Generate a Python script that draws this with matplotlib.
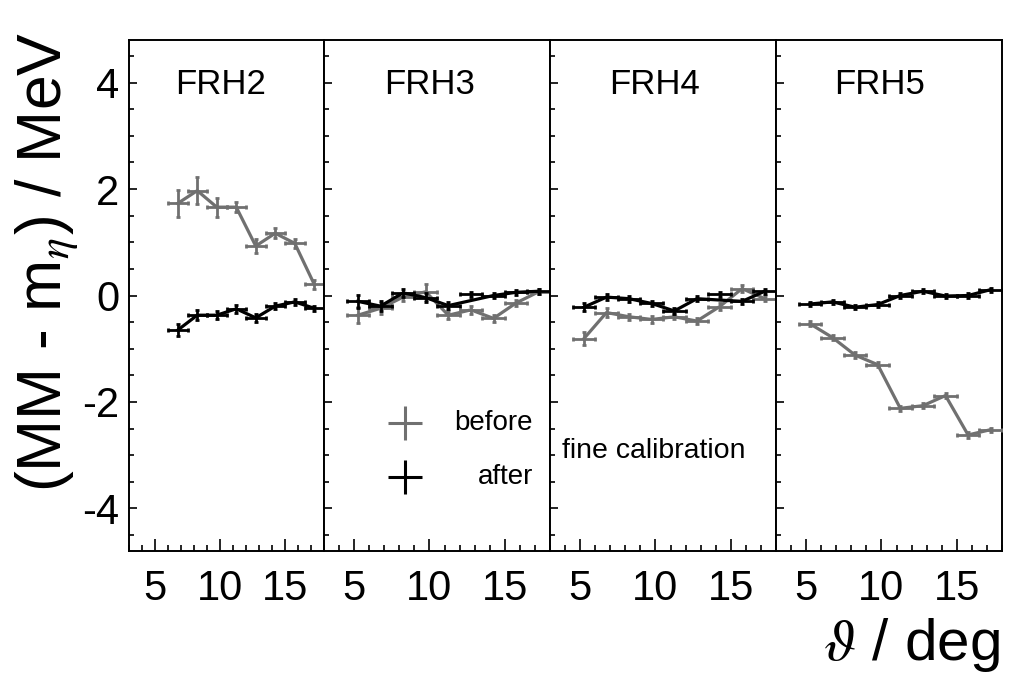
import numpy as np
import matplotlib.pyplot as plt
from matplotlib.ticker import MultipleLocator

plt.rcParams['font.family'] = ['Liberation Sans', 'DejaVu Sans']
plt.rcParams['mathtext.fontset'] = 'stix'

# bin centres in theta (deg), half bin width used as x error
theta = [5.25, 6.75, 8.25, 9.75, 11.25, 12.75, 14.25, 15.75, 17.25]
theta_halfwidth = 0.75

detectors = ["FRH2", "FRH3", "FRH4", "FRH5"]

# FRH2 starts at the second bin
before = {
    "FRH2": [1.73, 1.97, 1.66, 1.66, 0.93, 1.17, 0.98, 0.21],
    "FRH3": [-0.37, -0.24, -0.03, 0.07, -0.37, -0.27, -0.43, -0.14, 0.07],
    "FRH4": [-0.81, -0.32, -0.40, -0.45, -0.40, -0.48, -0.21, 0.13, -0.06],
    "FRH5": [-0.53, -0.79, -1.12, -1.30, -2.12, -2.07, -1.88, -2.62, -2.52],
}
before_err = {
    "FRH2": [0.25, 0.26, 0.18, 0.10, 0.13, 0.09, 0.08, 0.09],
    "FRH3": [0.15, 0.10, 0.08, 0.15, 0.08, 0.07, 0.07, 0.06, 0.05],
    "FRH4": [0.12, 0.08, 0.06, 0.06, 0.05, 0.05, 0.06, 0.06, 0.05],
    "FRH5": [0.05, 0.05, 0.05, 0.05, 0.05, 0.05, 0.05, 0.05, 0.04],
}
after = {
    "FRH2": [-0.65, -0.37, -0.37, -0.25, -0.42, -0.20, -0.12, -0.24],
    "FRH3": [-0.11, -0.20, 0.05, -0.04, -0.19, 0.02, 0.00, 0.06, 0.08],
    "FRH4": [-0.22, -0.03, -0.06, -0.15, -0.29, -0.06, 0.02, -0.11, 0.08],
    "FRH5": [-0.16, -0.12, -0.22, -0.17, 0.00, 0.08, -0.01, 0.00, 0.11],
}
after_err = {
    "FRH2": [0.12, 0.09, 0.08, 0.07, 0.07, 0.06, 0.05, 0.05],
    "FRH3": [0.12, 0.10, 0.08, 0.08, 0.06, 0.05, 0.05, 0.05, 0.05],
    "FRH4": [0.08, 0.06, 0.06, 0.05, 0.06, 0.05, 0.05, 0.05, 0.05],
    "FRH5": [0.04, 0.04, 0.04, 0.04, 0.04, 0.04, 0.04, 0.04, 0.04],
}
# points of the "after" graph that the connecting line skips
after_skip = {"FRH3": 5, "FRH4": 6}

GREY = '#707070'
W, H = 1010, 673
edges = [129, 324, 550, 776, 1002]
top, bottom = 40, 551
label_x = [221, 430, 655, 880]


def draw(ax, x, y, yerr, color, skip=None):
    ax.errorbar(x, y, xerr=theta_halfwidth, yerr=yerr, fmt='none', ecolor=color,
                elinewidth=2.0, capsize=1.5, capthick=2.0, zorder=3)
    xl, yl = np.array(x), np.array(y)
    if skip is not None:
        xl, yl = np.delete(xl, skip), np.delete(yl, skip)
    ax.plot(xl, yl, color=color, lw=2.3, zorder=3)


fig = plt.figure(figsize=(W / 100, H / 100), dpi=100)
axes = []
for i, det in enumerate(detectors):
    ax = fig.add_axes([edges[i] / W, 1 - bottom / H,
                       (edges[i + 1] - edges[i]) / W, (bottom - top) / H])
    x = theta[len(theta) - len(before[det]):]
    draw(ax, x, before[det], before_err[det], GREY)
    draw(ax, x, after[det], after_err[det], 'black', after_skip.get(det))

    ax.set_xlim(3, 18)
    ax.set_ylim(-4.8, 4.8)
    ax.xaxis.set_major_locator(MultipleLocator(5))
    ax.xaxis.set_minor_locator(MultipleLocator(1))
    ax.yaxis.set_major_locator(MultipleLocator(2))
    ax.yaxis.set_minor_locator(MultipleLocator(0.5))
    ax.tick_params(axis='x', which='both', direction='in', top=False, bottom=True,
                   labelsize=30, pad=13, width=1.2)
    ax.tick_params(axis='x', which='major', length=9)
    ax.tick_params(axis='x', which='minor', length=4.5)
    ax.tick_params(axis='y', which='both', direction='in', left=True, right=False,
                   labelleft=(i == 0), labelsize=30, pad=7, width=1.2)
    ax.tick_params(axis='y', which='major', length=5.5)
    ax.tick_params(axis='y', which='minor', length=3.5)
    for s in ax.spines.values():
        s.set_linewidth(1.4)
    ax.set_yticks([-4, -2, 0, 2, 4])
    ax.set_yticklabels(['-4', '-2', '0', '2', '4'])
    fig.text(label_x[i] / W, 1 - 84 / H, det, fontsize=25, ha='center', va='center')
    axes.append(ax)

# legend drawn by hand, as in the original
for yy, col, txt in [(423, GREY, 'before'), (477, 'black', 'after')]:
    fig.add_artist(plt.Line2D([405 / W], [1 - yy / H], marker='+', markersize=25,
                              markeredgewidth=2.2, color=col, transform=fig.transFigure))
    fig.text(533 / W, 1 - yy / H, txt, fontsize=20, ha='right', va='center')

fig.text(562 / W, 1 - 451 / H, 'fine calibration', fontsize=20.5, ha='left', va='center')

fig.text(47 / W, 1 - 262 / H, r'(MM - m$_{\eta}$) / MeV', fontsize=45, rotation=90,
         ha='center', va='center')
fig.text(1000 / W, 1 - 660 / H, r'$\vartheta$ / deg', fontsize=42, ha='right',
         va='baseline')

fig.savefig('out.png', dpi=100)
